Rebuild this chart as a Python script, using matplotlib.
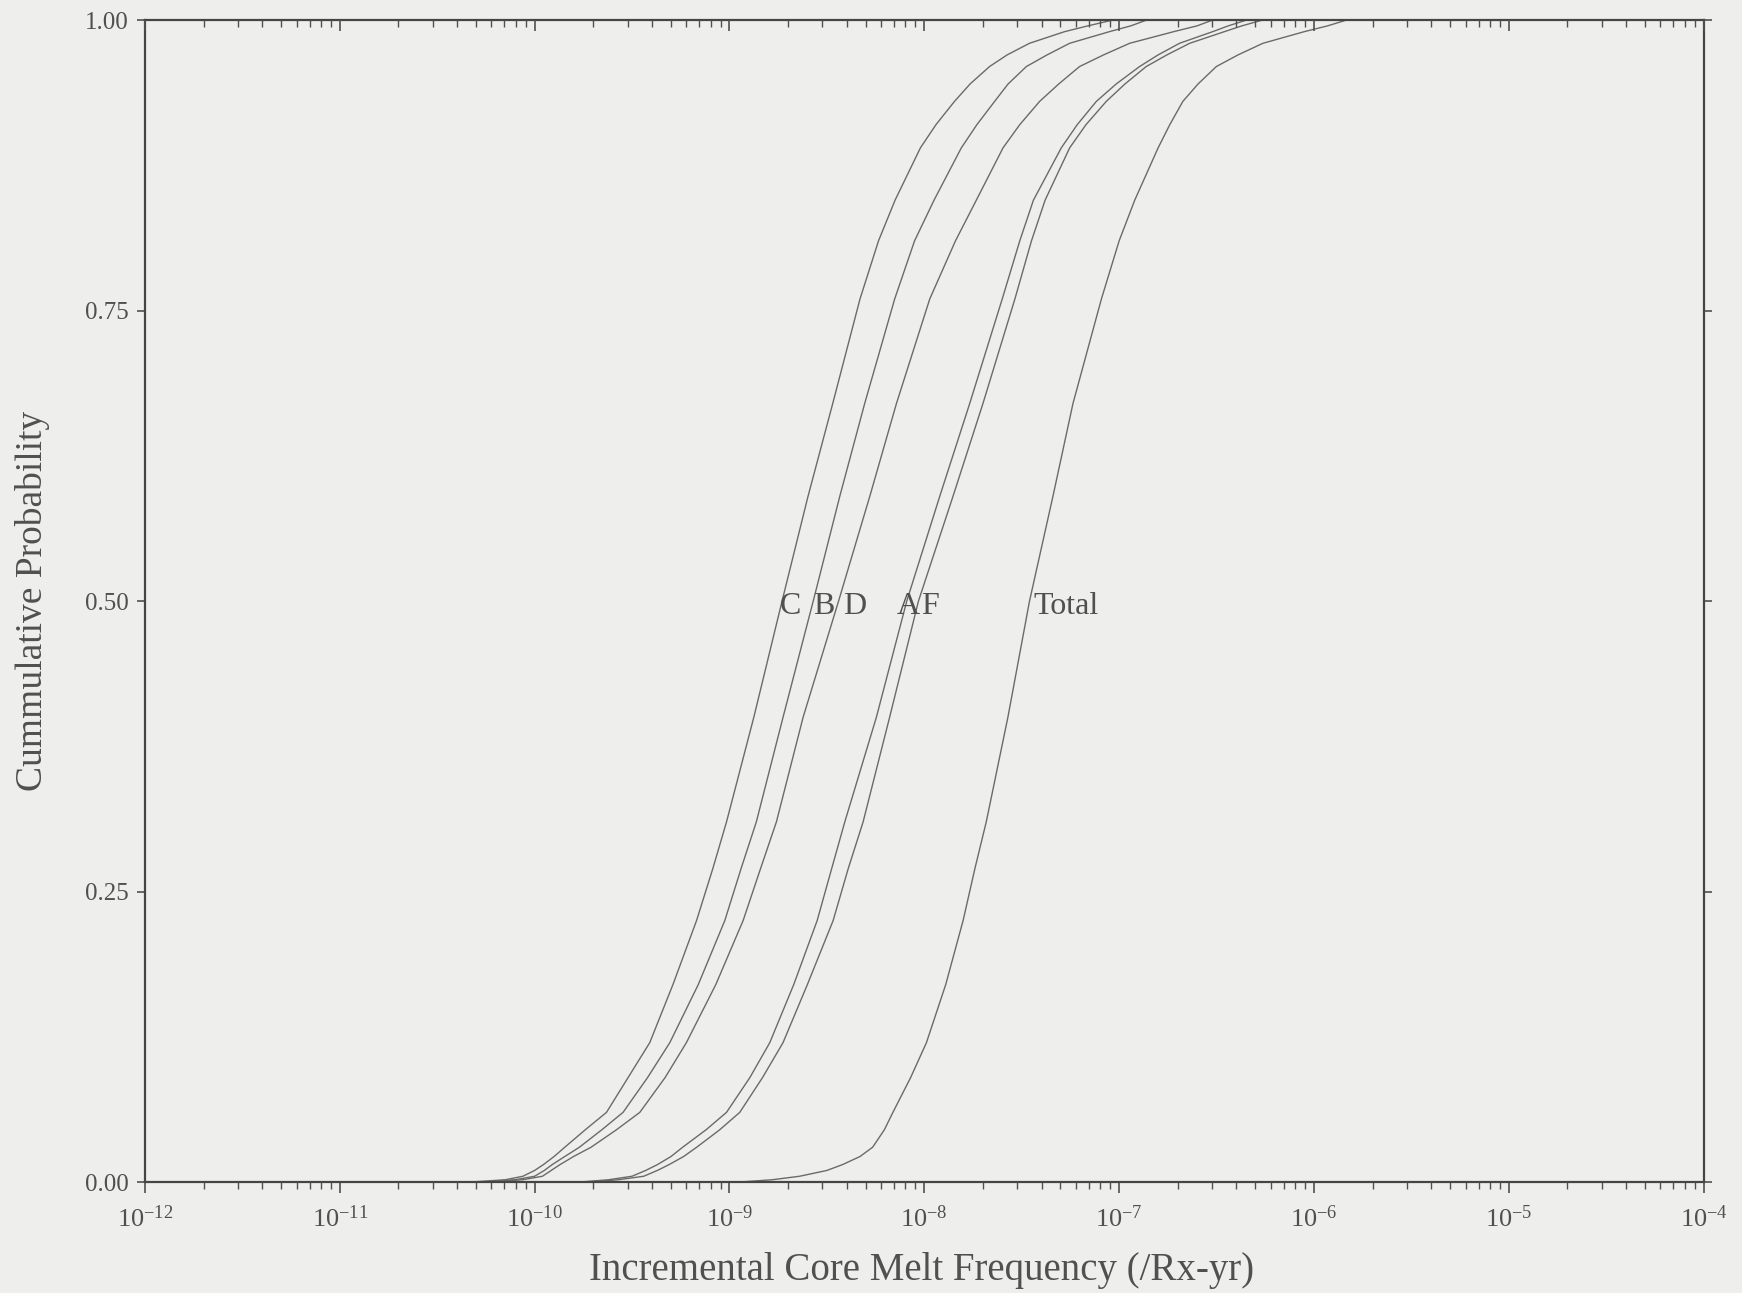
import numpy as np
import matplotlib.pyplot as plt
from matplotlib.ticker import LogLocator, NullFormatter

# cumulative probability levels
prob = [0.0, 0.002, 0.005, 0.01, 0.015, 0.022, 0.03, 0.045, 0.06, 0.09, 0.12, 0.17,
        0.225, 0.27, 0.31, 0.4, 0.5, 0.59, 0.67, 0.76, 0.81, 0.845, 0.89, 0.91,
        0.93, 0.945, 0.96, 0.97, 0.98, 0.99, 0.995, 1.0]

# log10 of the frequency (/Rx-yr) at each probability level
log_C = [-10.33, -10.15, -10.06, -10.0, -9.955, -9.90, -9.845, -9.74, -9.631, -9.52, -9.409, -9.29,
         -9.169, -9.085, -9.015, -8.875, -8.73, -8.597, -8.47, -8.33, -8.235, -8.15, -8.02, -7.94,
         -7.845, -7.765, -7.665, -7.575, -7.46, -7.28, -7.16, -7.033]
log_B = [-10.28, -10.10, -10.00, -9.95, -9.91, -9.845, -9.77, -9.655, -9.546, -9.42, -9.306, -9.16,
         -9.024, -8.94, -8.862, -8.725, -8.57, -8.434, -8.306, -8.152, -8.05, -7.95, -7.81, -7.73,
         -7.639, -7.57, -7.476, -7.37, -7.254, -7.05, -6.94, -6.859]
log_D = [-10.23, -10.06, -9.96, -9.915, -9.87, -9.80, -9.71, -9.58, -9.46, -9.33, -9.221, -9.07,
         -8.93, -8.84, -8.759, -8.622, -8.44, -8.28, -8.143, -7.972, -7.84, -7.733, -7.596, -7.51,
         -7.408, -7.31, -7.203, -7.08, -6.946, -6.72, -6.60, -6.52]
log_A = [-9.77, -9.62, -9.50, -9.43, -9.37, -9.30, -9.24, -9.12, -9.015, -8.895, -8.793, -8.67,
         -8.55, -8.475, -8.408, -8.246, -8.09, -7.921, -7.767, -7.60, -7.51, -7.44, -7.297, -7.215,
         -7.117, -7.015, -6.895, -6.80, -6.69, -6.52, -6.44, -6.346]
log_F = [-9.72, -9.57, -9.44, -9.37, -9.31, -9.235, -9.168, -9.05, -8.947, -8.83, -8.725, -8.60,
         -8.468, -8.39, -8.314, -8.178, -8.03, -7.853, -7.699, -7.535, -7.45, -7.38, -7.254, -7.17,
         -7.066, -6.97, -6.861, -6.755, -6.638, -6.46, -6.37, -6.264]
log_Total = [-8.95, -8.78, -8.64, -8.50, -8.42, -8.33, -8.265, -8.205, -8.161, -8.07, -7.989, -7.89,
             -7.801, -7.74, -7.682, -7.571, -7.46, -7.34, -7.237, -7.091, -7.00, -6.92, -6.80, -6.74,
             -6.673, -6.595, -6.501, -6.39, -6.262, -6.05, -5.93, -5.833]

names = ["C", "B", "D", "A", "F", "Total"]
curves = [log_C, log_B, log_D, log_A, log_F, log_Total]
# small horizontal nudges (points) of the curve labels
label_dx = [-2, 0, 3, -7, 2, 3]

y_ticks = [0.0, 0.25, 0.5, 0.75, 1.0]
y_ticklabels = ["0.00", "0.25", "0.50", "0.75", "1.00"]
x_exponents = [-12, -11, -10, -9, -8, -7, -6, -5, -4]

bg = "#eeeeec"
ink = "#505050"
line_col = "#6a6a6a"

plt.rcParams['font.family'] = ['Liberation Serif', 'DejaVu Serif']
plt.rcParams['mathtext.fontset'] = 'custom'
plt.rcParams['mathtext.rm'] = 'Liberation Serif'
plt.rcParams['mathtext.it'] = 'Liberation Serif:italic'

fig = plt.figure(figsize=(17.42, 12.93), dpi=100, facecolor=bg)
ax = fig.add_axes([0.0832, 0.0858, 0.8948, 0.8987], facecolor=bg)

mid = prob.index(0.5)
for name, vals, dx in zip(names, curves, label_dx):
    xs = 10.0 ** np.array(vals)
    ax.plot(xs, prob, color=line_col, lw=1.0)
    ax.annotate(name, (xs[mid], 0.495), xytext=(dx, 0), textcoords="offset points",
                ha="left", va="center", fontsize=23, color=ink)

ax.set_xscale("log")
ax.set_xlim(1e-12, 1e-4)
ax.set_ylim(0, 1)

ax.set_xticks([10.0 ** e for e in x_exponents])
ax.set_xticklabels([r"$10^{%d}$" % e for e in x_exponents])
ax.xaxis.set_minor_locator(LogLocator(base=10, subs=np.arange(2, 10)))
ax.xaxis.set_minor_formatter(NullFormatter())
ax.set_yticks(y_ticks)
ax.set_yticklabels(y_ticklabels)

ax.tick_params(axis="x", which="both", direction="out", top=False, colors=ink, labelsize=19, pad=9)
ax.tick_params(axis="x", which="major", length=8, width=1.2)
ax.tick_params(axis="x", which="minor", length=5, width=1.0)
ax.tick_params(axis="y", which="major", direction="out", right=True, length=6, width=1.2,
               colors=ink, labelsize=18, pad=6)

for s in ax.spines.values():
    s.set_color("#454545")
    s.set_linewidth(1.6)

# top axis: same log ticks, pointing into the plot
top = ax.twiny()
top.set_xscale("log")
top.set_xlim(ax.get_xlim())
top.set_xticks([10.0 ** e for e in x_exponents])
top.xaxis.set_minor_locator(LogLocator(base=10, subs=np.arange(2, 10)))
top.xaxis.set_minor_formatter(NullFormatter())
top.tick_params(axis="x", which="both", direction="in", top=True, bottom=False,
                labeltop=False, labelbottom=False, colors=ink)
top.tick_params(axis="x", which="major", length=8, width=1.2)
top.tick_params(axis="x", which="minor", length=5, width=1.0)
for s in top.spines.values():
    s.set_visible(False)

ax.set_xlabel("Incremental Core Melt Frequency (/Rx-yr)", fontsize=28, color=ink, va="center")
ax.set_ylabel("Cummulative Probability", fontsize=27, color=ink, va="center")
ax.xaxis.set_label_coords(0.498, -0.0757)
ax.yaxis.set_label_coords(-0.072, 0.50)

fig.savefig("out.png", dpi=100, facecolor=bg)
